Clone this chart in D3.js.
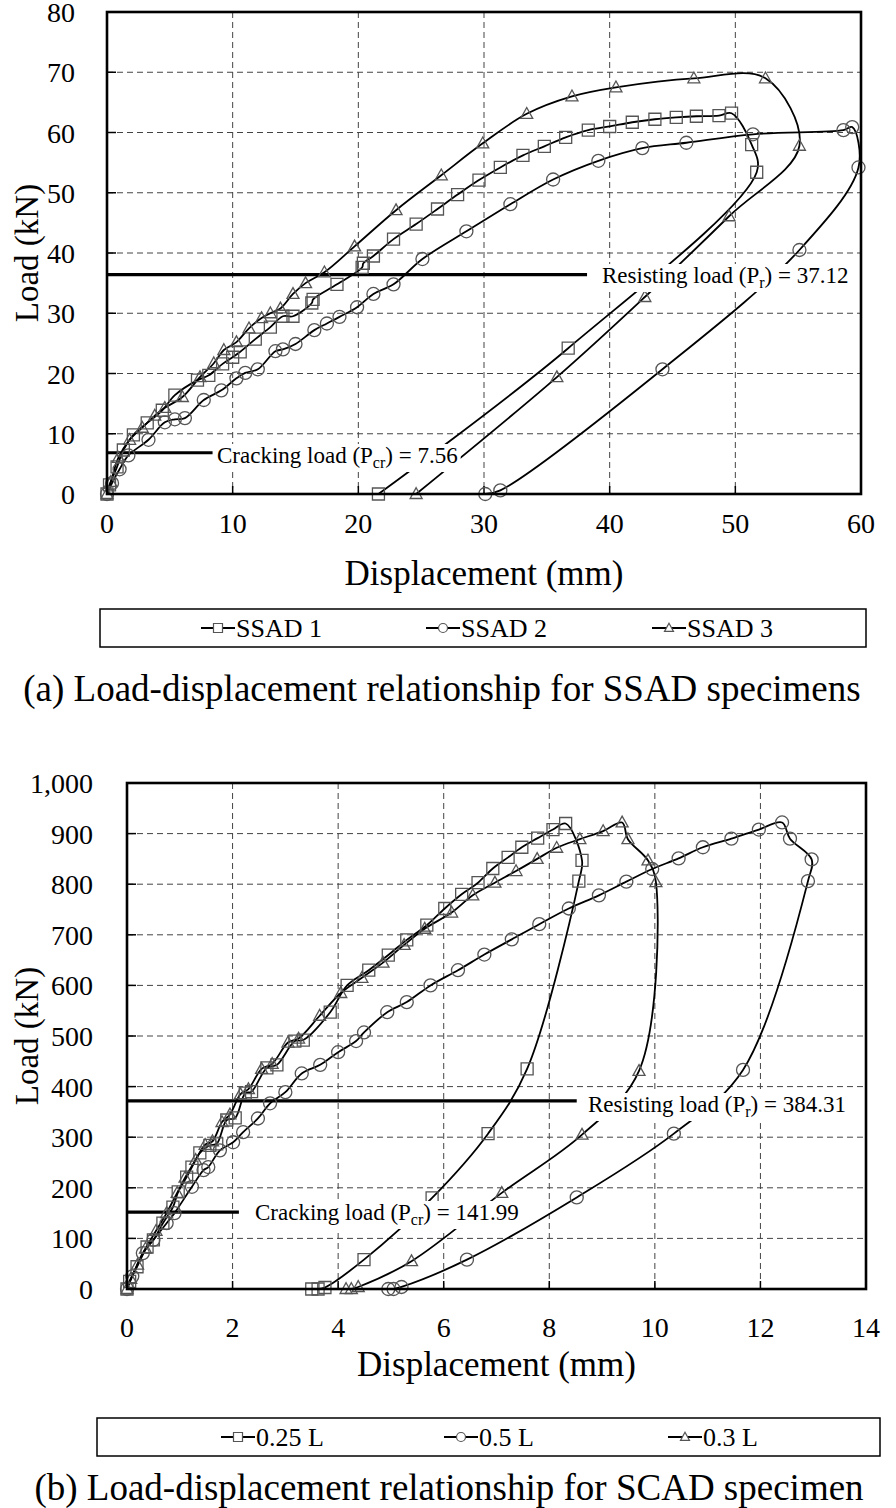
<!DOCTYPE html>
<html lang="en">
<head>
<meta charset="utf-8">
<title>Load-displacement relationships</title>
<style>
  html, body { margin: 0; padding: 0; background: #fff; }
  text { font-family: "Liberation Serif", "Times New Roman", serif; fill: #000; }
</style>
</head>
<body>
<div id="chart"></div>
<script src="https://cdn.jsdelivr.net/npm/d3@7"></script>
<script>
// ---- data: panel (a) SSAD specimens, [displacement mm, load kN]
var ssad1 = [[0,0],[0.2,1.5],[0.8,4.5],[1.3,7.3],[2.1,9.8],[3.2,11.8],[4.4,13.9],[5.4,16.4],[7.2,18.9],[8.1,19.7],
  [9.2,21.6],[10.0,22.7],[10.6,23.6],[11.8,25.7],[13.0,27.7],[14.0,29.5],[14.8,29.5],[16.3,31.7],[16.4,32.3],
  [18.3,34.8],[20.3,37.6],[20.4,38.3],[21.2,39.5],[22.8,42.3],[24.6,44.8],[26.3,47.3],[27.9,49.7],[29.6,52.1],
  [31.3,54.2],[33.1,56.2],[34.8,57.7],[36.5,59.2],[38.3,60.4],[40.0,61.0],[41.8,61.7],[43.6,62.2],[45.3,62.5],
  [46.9,62.7],[48.7,62.8],[49.7,63.2],[51.3,58.0],[51.7,53.4],[36.7,24.2],[21.6,0]];
var ssad2 = [[0,0],[0.4,1.8],[1.0,4.1],[1.7,6.4],[3.3,9.0],[4.6,11.9],[5.4,12.4],[6.2,12.6],[7.7,15.6],[9.1,17.2],
  [10.3,19.2],[11.0,20.1],[12.0,20.7],[13.4,23.7],[14.0,24.0],[15.0,24.9],[16.5,27.2],[17.5,28.3],[18.5,29.4],
  [19.9,31.0],[21.2,33.2],[22.8,34.8],[25.1,39.0],[28.6,43.6],[32.1,48.1],[35.5,52.2],[39.1,55.3],[42.6,57.4],
  [46.1,58.3],[51.4,59.7],[58.6,60.4],[59.3,60.9],[59.8,54.2],[55.1,40.5],[44.2,20.7],[31.3,0.6],[30.1,0]];
var ssad3 = [[0,0],[0.3,2.0],[0.9,6.0],[1.8,9.0],[2.8,11.0],[3.8,13.0],[4.6,14.3],[6.0,16.1],[7.4,19.4],[8.5,21.7],
  [9.3,23.9],[10.3,25.2],[11.3,27.5],[12.3,29.2],[13.0,30.0],[13.8,30.8],[14.8,33.2],[15.8,35.0],[17.3,36.8],
  [19.7,41.1],[23.0,47.1],[26.6,52.9],[29.9,58.2],[33.4,63.1],[37.0,66.0],[40.5,67.5],[46.7,69.0],[52.4,69.0],
  [55.1,57.8],[49.5,46.1],[42.8,32.7],[35.8,19.4],[24.6,0]];

// ---- data: panel (b) SCAD specimen, [displacement mm, load kN]
var scad025 = [[0,0],[0.05,15],[0.19,44],[0.38,83],[0.5,97],[0.68,130],[0.87,162],[0.97,192],[1.13,221],[1.23,241],
  [1.38,269],[1.57,284],[1.70,287],[1.89,334],[2.05,338],[2.24,387],[2.36,390],[2.65,437],[2.84,443],[3.18,490],
  [3.34,492],[3.85,547],[4.17,600],[4.58,630],[4.95,660],[5.30,690],[5.68,719],[6.02,752],[6.34,780],[6.65,803],
  [6.93,831],[7.22,853],[7.48,873],[7.78,891],[8.07,908],[8.31,920],[8.62,847],[8.56,806],[7.58,435],[6.84,307],
  [5.78,180],[4.49,58],[3.75,3],[3.62,0],[3.5,0]];
var scad05 = [[0,0],[0.1,25],[0.3,71],[0.5,97],[0.75,130],[0.9,150],[1.23,202],[1.45,235],[1.54,241],[1.76,274],
  [2.01,290],[2.2,310],[2.48,337],[2.71,367],[3.0,389],[3.31,426],[3.66,443],[4.0,468],[4.34,490],[4.49,507],
  [4.93,547],[5.30,567],[5.75,600],[6.27,630],[6.77,661],[7.29,691],[7.81,721],[8.37,752],[8.94,778],[9.46,805],
  [9.95,830],[10.45,851],[10.91,873],[11.45,890],[11.97,908],[12.41,922],[12.56,890],[12.97,849],[12.90,806],
  [11.67,433],[10.36,307],[8.52,181],[6.44,58],[5.2,4],[5.05,0],[4.95,0]];
var scad03 = [[0,0],[0.07,20],[0.2,48],[0.35,80],[0.55,115],[0.75,150],[0.95,190],[1.1,220],[1.3,255],[1.48,285],
  [1.62,292],[1.8,330],[1.95,345],[2.15,385],[2.3,395],[2.55,435],[2.75,445],[3.05,487],[3.25,495],[3.65,540],
  [4.05,585],[4.45,615],[4.85,645],[5.25,680],[5.64,712],[6.15,744],[6.55,778],[6.97,803],[7.37,826],[7.77,850],
  [8.14,872],[8.58,889],[9.02,905],[9.38,922],[9.49,889],[9.87,847],[10.02,804],[9.70,431],[8.62,305],[7.10,190],
  [5.39,55],[4.38,4],[4.25,0],[4.15,0]];

// ---- ticks, legends, reference loads
var ticksXa = [0, 10, 20, 30, 40, 50, 60];
var ticksYa = [0, 10, 20, 30, 40, 50, 60, 70, 80];
var ticksXb = [0, 2, 4, 6, 8, 10, 12, 14];
var ticksYb = [0, 100, 200, 300, 400, 500, 600, 700, 800, 900, 1000];
var namesA = ["SSAD 1", "SSAD 2", "SSAD 3"];
var namesB = ["0.25 L", "0.5 L", "0.3 L"];
// [load where line is drawn, line end displacement, label prefix, subscript, value]
var refsA = [[36.4, 38.2, "Resisting load (P", "r", ") = 37.12"], [6.85, 8.4, "Cracking load (P", "cr", ") = 7.56"]];
var refsB = [[371.6, 8.52, "Resisting load (P", "r", ") = 384.31"], [152, 2.12, "Cracking load (P", "cr", ") = 141.99"]];

var W = 896, H = 1508;
var svg = d3.select("#chart").append("svg").attr("width", W).attr("height", H);

function markerPath(kind, x, y, s) {
  var h = s / 2;
  if (kind === "square") return "M" + (x - h) + "," + (y - h) + "h" + s + "v" + s + "h" + (-s) + "Z";
  if (kind === "circle") return "M" + (x - h) + "," + y + "a" + h + "," + h + " 0 1,0 " + s + ",0a" + h + "," + h + " 0 1,0 " + (-s) + ",0";
  // triangle
  return "M" + x + "," + (y - h * 1.05) + "L" + (x + h) + "," + (y + h * 0.75) + "L" + (x - h) + "," + (y + h * 0.75) + "Z";
}

function drawPanel(p) {
  var g = svg.append("g");
  var x = d3.scaleLinear().domain(p.xDomain).range([p.left, p.right]);
  var y = d3.scaleLinear().domain(p.yDomain).range([p.bottom, p.top]);

  // grid
  g.selectAll(".gx").data(p.ticksX.slice(1, -1)).enter().append("line")
    .attr("x1", function (d) { return x(d); }).attr("x2", function (d) { return x(d); })
    .attr("y1", p.top).attr("y2", p.bottom)
    .attr("stroke", "#444").attr("stroke-width", 1).attr("stroke-dasharray", "6,4");
  g.selectAll(".gy").data(p.ticksY.slice(1, -1)).enter().append("line")
    .attr("y1", function (d) { return y(d); }).attr("y2", function (d) { return y(d); })
    .attr("x1", p.left).attr("x2", p.right)
    .attr("stroke", "#444").attr("stroke-width", 1).attr("stroke-dasharray", "6,4");

  // small inside ticks
  g.selectAll(".tx").data(p.ticksX.slice(1, -1)).enter().append("line")
    .attr("x1", function (d) { return x(d); }).attr("x2", function (d) { return x(d); })
    .attr("y1", p.bottom).attr("y2", p.bottom - 8)
    .attr("stroke", "#000").attr("stroke-width", 1.5);
  g.selectAll(".ty").data(p.ticksY.slice(1, -1)).enter().append("line")
    .attr("y1", function (d) { return y(d); }).attr("y2", function (d) { return y(d); })
    .attr("x1", p.left).attr("x2", p.left + 9)
    .attr("stroke", "#000").attr("stroke-width", 1.5);

  // reference load lines
  g.selectAll(".ref").data(p.refs).enter().append("line")
    .attr("x1", p.left).attr("x2", function (d) { return x(d[1]); })
    .attr("y1", function (d) { return y(d[0]); }).attr("y2", function (d) { return y(d[0]); })
    .attr("stroke", "#000").attr("stroke-width", 3.2);

  var line = d3.line()
    .x(function (d) { return x(d[0]); })
    .y(function (d) { return y(d[1]); })
    .curve(d3.curveCatmullRom.alpha(0.5));

  p.series.forEach(function (s) {
    g.append("path").datum(s.data).attr("d", line)
      .attr("fill", "none").attr("stroke", "#000").attr("stroke-width", 1.8);
  });
  p.series.forEach(function (s) {
    g.selectAll(null).data(s.data).enter().append("path")
      .attr("d", function (d) { return markerPath(s.kind, x(d[0]), y(d[1]), s.kind === "circle" ? 13 : 12); })
      .attr("fill", "none").attr("stroke", "#555").attr("stroke-width", 1.3);
  });

  // reference labels with white background
  p.refs.forEach(function (r, i) {
    var pos = p.labelPos[i];
    var t = g.append("text").attr("x", pos[0]).attr("y", pos[1]).attr("font-size", 23);
    t.append("tspan").text(r[2]);
    t.append("tspan").attr("font-size", 16).attr("dy", 5).text(r[3]);
    t.append("tspan").attr("dy", -5).text(r[4]);
    var bb = t.node().getBBox();
    g.insert("rect", function () { return t.node(); })
      .attr("x", bb.x - 3).attr("y", bb.y + 1).attr("width", bb.width + 6).attr("height", bb.height)
      .attr("fill", "#fff");
  });

  // frame
  g.append("rect").attr("x", p.left).attr("y", p.top)
    .attr("width", p.right - p.left).attr("height", p.bottom - p.top)
    .attr("fill", "none").attr("stroke", "#000").attr("stroke-width", 2.6);

  // tick labels
  g.selectAll(".lx").data(p.ticksX).enter().append("text")
    .attr("x", function (d) { return x(d); }).attr("y", p.bottom + p.xLabelDy)
    .attr("text-anchor", "middle").attr("font-size", 28)
    .text(function (d) { return d; });
  g.selectAll(".ly").data(p.ticksY).enter().append("text")
    .attr("x", p.left - p.yLabelGap).attr("y", function (d) { return y(d) + 10; })
    .attr("text-anchor", "end").attr("font-size", 28)
    .text(function (d) { return d3.format(",")(d); });

  // axis titles
  g.append("text").attr("x", (p.left + p.right) / 2).attr("y", p.bottom + p.xTitleDy)
    .attr("text-anchor", "middle").attr("font-size", 35).text("Displacement (mm)");
  g.append("text")
    .attr("transform", "translate(" + 38 + "," + ((p.top + p.bottom) / 2) + ") rotate(-90)")
    .attr("text-anchor", "middle").attr("font-size", 33).text("Load (kN)");

  // legend
  g.append("rect").attr("x", p.legend.x).attr("y", p.legend.y)
    .attr("width", p.legend.w).attr("height", 38)
    .attr("fill", "none").attr("stroke", "#000").attr("stroke-width", 1.5);
  p.series.forEach(function (s, i) {
    var cx = p.legend.items[i], cy = p.legend.y + 19;
    g.append("line").attr("x1", cx - 17).attr("x2", cx + 17).attr("y1", cy).attr("y2", cy)
      .attr("stroke", "#000").attr("stroke-width", 1.8);
    g.append("path").attr("d", markerPath(s.kind, cx, cy, 9))
      .attr("fill", "#fff").attr("stroke", "#555").attr("stroke-width", 1.2);
    g.append("text").attr("x", cx + 18).attr("y", cy + 9).attr("font-size", 26).text(s.name);
  });

  // caption
  g.append("text").attr("x", p.captionX).attr("y", p.captionY)
    .attr("text-anchor", "middle").attr("font-size", 37).text(p.caption);
}

drawPanel({
  left: 107, right: 861, top: 12, bottom: 494,
  xDomain: [0, 60], yDomain: [0, 80], ticksX: ticksXa, ticksY: ticksYa, yLabelGap: 32,
  xLabelDy: 39, xTitleDy: 91,
  refs: refsA, labelPos: [[602, 283], [217, 463]],
  series: [
    { name: namesA[0], kind: "square", data: ssad1 },
    { name: namesA[1], kind: "circle", data: ssad2 },
    { name: namesA[2], kind: "triangle", data: ssad3 }
  ],
  legend: { x: 100, y: 609, w: 766, items: [218, 443, 669] },
  caption: "(a) Load-displacement relationship for SSAD specimens", captionX: 442, captionY: 701
});

drawPanel({
  left: 127, right: 866, top: 783, bottom: 1289,
  xDomain: [0, 14], yDomain: [0, 1000], ticksX: ticksXb, ticksY: ticksYb, yLabelGap: 34,
  xLabelDy: 48, xTitleDy: 87,
  refs: refsB, labelPos: [[588, 1112], [255, 1220]],
  series: [
    { name: namesB[0], kind: "square", data: scad025 },
    { name: namesB[1], kind: "circle", data: scad05 },
    { name: namesB[2], kind: "triangle", data: scad03 }
  ],
  legend: { x: 97, y: 1418, w: 783, items: [238, 461, 685] },
  caption: "(b) Load-displacement relationship for SCAD specimen", captionX: 449, captionY: 1500
});
</script>
</body>
</html>
